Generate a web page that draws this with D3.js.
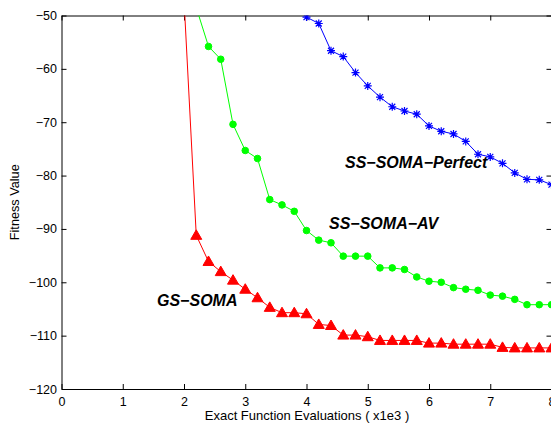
<!DOCTYPE html>
<html><head><meta charset="utf-8">
<script src="https://cdn.jsdelivr.net/npm/d3@7"></script>
<style>body{margin:0;background:#fff}svg{display:block}</style>
</head><body><svg id="c" width="551" height="423"></svg>
<script>
const xTicks = [0,1,2,3,4,5,6,7,8];
const yTicks = [-120,-110,-100,-90,-80,-70,-60,-50];
const gsX = [2.0,2.2,2.4,2.6,2.8,3.0,3.2,3.4,3.6,3.8,4.0,4.2,4.4,4.6,4.8,5.0,5.2,5.4,5.6,5.8,6.0,6.2,6.4,6.6,6.8,7.0,7.2,7.4,7.6,7.8,8.0];
const gsY = [-47,-91.2,-96.1,-98.0,-99.6,-101.3,-102.9,-104.7,-105.7,-105.7,-105.9,-107.9,-108.1,-109.9,-109.9,-110.2,-110.9,-110.9,-110.9,-110.9,-111.4,-111.4,-111.6,-111.6,-111.6,-111.6,-112.2,-112.3,-112.3,-112.3,-112.3];
const avX = [2.2,2.4,2.6,2.8,3.0,3.2,3.4,3.6,3.8,4.0,4.2,4.4,4.6,4.8,5.0,5.2,5.4,5.6,5.8,6.0,6.2,6.4,6.6,6.8,7.0,7.2,7.4,7.6,7.8,8.0];
const avY = [-48.5,-55.8,-58.2,-70.4,-75.3,-76.8,-84.5,-85.5,-86.7,-90.3,-92.1,-92.6,-95.1,-95.1,-95.1,-97.3,-97.3,-97.6,-99.0,-99.8,-100.0,-101.0,-101.3,-101.5,-102.4,-102.6,-103.2,-104.2,-104.2,-104.2];
const pfX = [4.0,4.2,4.4,4.6,4.8,5.0,5.2,5.4,5.6,5.8,6.0,6.2,6.4,6.6,6.8,7.0,7.2,7.4,7.6,7.8,8.0];
const pfY = [-50.3,-51.5,-56.6,-57.7,-60.7,-63.2,-65.3,-67.1,-67.9,-68.5,-70.7,-71.7,-72.2,-73.6,-76.0,-76.5,-77.7,-79.5,-80.7,-80.8,-81.7];

const svg = d3.select('#c');
const L=61.5, R=551.5, T=15.5, B=389;
const x = d3.scaleLinear().domain([0,8]).range([L,R]);
const y = d3.scaleLinear().domain([-120,-50]).range([B,T]);
const font = '"Liberation Sans", Arial, Helvetica, sans-serif';
const fmt = d => d < 0 ? '\u2212' + Math.abs(d) : String(d);

svg.append('defs').append('clipPath').attr('id','clip')
  .append('rect').attr('x',L).attr('y',T).attr('width',R-L).attr('height',B-T);

const tl = 5;
const gb = svg.append('g').attr('transform',`translate(0,${B})`).call(d3.axisBottom(x).tickValues(xTicks).tickSizeInner(-tl).tickSizeOuter(0).tickPadding(8).tickFormat(fmt));
const gt = svg.append('g').attr('transform',`translate(0,${T})`).call(d3.axisTop(x).tickValues(xTicks).tickSizeInner(-tl).tickSizeOuter(0).tickFormat(''));
const gl = svg.append('g').attr('transform',`translate(${L},0)`).call(d3.axisLeft(y).tickValues(yTicks).tickSizeInner(-tl).tickSizeOuter(0).tickPadding(4.5).tickFormat(fmt));
const gr = svg.append('g').attr('transform',`translate(${R},0)`).call(d3.axisRight(y).tickValues(yTicks).tickSizeInner(-tl).tickSizeOuter(0).tickFormat(''));
[gb,gt,gl,gr].forEach(g=>{
  g.selectAll('path.domain').attr('stroke','#000').attr('stroke-width',1);
  g.selectAll('.tick line').attr('stroke','#000');
  g.selectAll('text').attr('fill','#000').style('font-family',font).style('font-size','12.5px');
});

const plot = svg.append('g').attr('clip-path','url(#clip)');
const line = d3.line().x(d=>x(d[0])).y(d=>y(d[1]));
function series(xs, ys, color){
  const pts = xs.map((v,i)=>[v, ys[i]]);
  plot.append('path').datum(pts).attr('d',line).attr('fill','none').attr('stroke',color).attr('stroke-width',1);
  return pts;
}
const gs = series(gsX, gsY, '#ff0000');
const av = series(avX, avY, '#00ff00');
const pf = series(pfX, pfY, '#0000ff');

plot.selectAll('.tri').data(gs).enter().append('path')
  .attr('transform',d=>`translate(${x(d[0])},${y(d[1])})`)
  .attr('d','M0,-5.5L5.5,4L-5.5,4Z').attr('fill','#ff0000').attr('stroke','#ff0000');
plot.selectAll('.dot').data(av).enter().append('circle')
  .attr('cx',d=>x(d[0])).attr('cy',d=>y(d[1])).attr('r',3.3).attr('fill','#00ff00').attr('stroke','#00ff00');
const star = 'M-4,0L4,0M0,-4L0,4M-3,-3L3,3M-3,3L3,-3';
plot.selectAll('.star').data(pf).enter().append('path')
  .attr('transform',d=>`translate(${x(d[0])},${y(d[1])})`)
  .attr('d',star).attr('fill','none').attr('stroke','#0000ff').attr('stroke-width',1.2);

svg.append('text').attr('x',307).attr('y',420).attr('text-anchor','middle')
  .style('font-family',font).style('font-size','13px').text('Exact Function Evaluations ( x1e3 )');
svg.append('text').attr('transform',`translate(19,${(T+B)/2}) rotate(-90)`).attr('text-anchor','middle')
  .style('font-family',font).style('font-size','12.7px').text('Fitness Value');

const ann = [['GS\u2212SOMA',157,306],['SS\u2212SOMA\u2212AV',329,229],['SS\u2212SOMA\u2212Perfect',345,168]];
ann.forEach(a=>svg.append('text').attr('x',a[1]).attr('y',a[2])
  .style('font-family',font).style('font-size','16px').style('font-weight','bold').style('font-style','italic').text(a[0]));
</script></body></html>
